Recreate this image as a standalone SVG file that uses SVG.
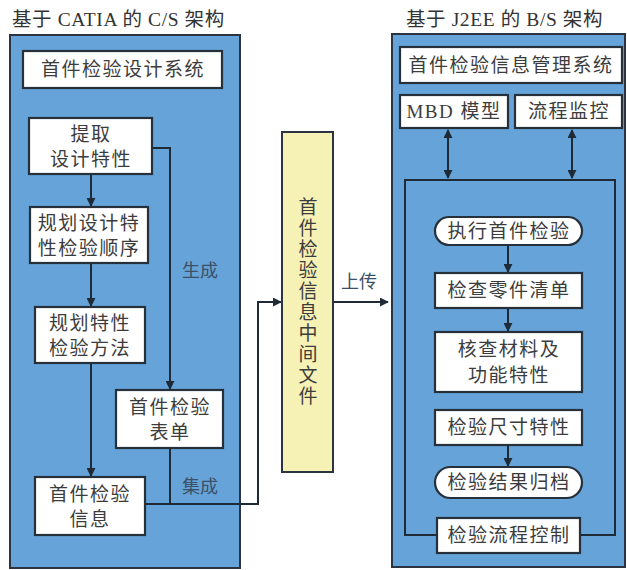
<svg xmlns="http://www.w3.org/2000/svg" width="627" height="570" viewBox="0 0 627 570">
<style>
.panel{fill:#66a3d8;stroke:#2b3440;stroke-width:2}
.box{fill:#ffffff;stroke:#26303a;stroke-width:2.2}
.yel{fill:#f6f1b4;stroke:#2b3440;stroke-width:2}
.t{font-family:"Liberation Serif","Noto Sans CJK SC",serif;font-size:19px;fill:#3c3c3c;text-anchor:middle;letter-spacing:1.5px}
.ti{font-family:"Liberation Serif","Noto Sans CJK SC",serif;font-size:19.5px;fill:#333;letter-spacing:0.6px}
.lb{font-family:"Liberation Serif","Noto Sans CJK SC",serif;font-size:18px;fill:#3a5068;text-anchor:middle}
.ln{fill:none;stroke:#1e2a36;stroke-width:2}
</style>
<defs>
<marker id="ah" viewBox="0 0 10 10" refX="9" refY="5" markerWidth="9" markerHeight="9" orient="auto-start-reverse" markerUnits="userSpaceOnUse">
<path d="M0,0 L10,5 L0,10 z" fill="#1e2a36"/>
</marker>
</defs>
<rect width="627" height="570" fill="#ffffff"/>

<g id="left-panel">
<text class="ti" x="12" y="26">基于 CATIA 的 C/S 架构</text>
<rect class="panel" x="10" y="35" width="230" height="533"/>
</g>
<g id="right-panel">
<text class="ti" x="406" y="26">基于 J2EE 的 B/S 架构</text>
<rect class="panel" x="392" y="34" width="233" height="533"/>
<rect fill="none" stroke="#1e2a36" stroke-width="2" x="405" y="180" width="210" height="355"/>
</g>

<g id="connectors">
<path class="ln" d="M91,174 V206" marker-end="url(#ah)"/>
<path class="ln" d="M91,263 V306" marker-end="url(#ah)"/>
<path class="ln" d="M91,363 V476" marker-end="url(#ah)"/>
<path class="ln" d="M152,148 H170 V389" marker-end="url(#ah)"/>
<path class="ln" d="M170,448 V504"/>
<path class="ln" d="M145,504 H258 V302 H281" marker-end="url(#ah)"/>
<path class="ln" d="M333,302 H388" marker-end="url(#ah)"/>
<path class="ln" d="M448,130 V178" marker-start="url(#ah)" marker-end="url(#ah)"/>
<path class="ln" d="M572,130 V178" marker-start="url(#ah)" marker-end="url(#ah)"/>
<path class="ln" d="M508,245 V272" marker-end="url(#ah)"/>
<path class="ln" d="M508,308 V331" marker-end="url(#ah)"/>
<path class="ln" d="M508,445 V466" marker-end="url(#ah)"/>
<text class="lb" x="200" y="277">生成</text>
<text class="lb" x="200" y="493">集成</text>
<text class="lb" x="359" y="288">上传</text>
</g>

<g id="design-system">
<rect class="box" x="23" y="51" width="199" height="37"/>
<text class="t" x="123" y="76">首件检验设计系统</text>
</g>
<g id="extract">
<rect class="box" x="29" y="118" width="123" height="56"/>
<text class="t" x="91" y="141">提取</text>
<text class="t" x="91" y="166">设计特性</text>
</g>
<g id="plan-order">
<rect class="box" x="30" y="207" width="118" height="56"/>
<text class="t" x="89" y="230">规划设计特</text>
<text class="t" x="89" y="255">性检验顺序</text>
</g>
<g id="plan-method">
<rect class="box" x="35" y="307" width="110" height="56"/>
<text class="t" x="90" y="330">规划特性</text>
<text class="t" x="90" y="355">检验方法</text>
</g>
<g id="inspection-info">
<rect class="box" x="35" y="477" width="110" height="58"/>
<text class="t" x="90" y="501">首件检验</text>
<text class="t" x="90" y="526">信息</text>
</g>
<g id="inspection-form">
<rect class="box" x="116" y="390" width="107" height="58"/>
<text class="t" x="170" y="414">首件检验</text>
<text class="t" x="170" y="439">表单</text>
</g>

<g id="intermediate-file">
<rect class="yel" x="282" y="132" width="51" height="340"/>
<g class="t" style="letter-spacing:0">
<text x="308" y="214">首</text>
<text x="308" y="235">件</text>
<text x="308" y="256">检</text>
<text x="308" y="277">验</text>
<text x="308" y="298">信</text>
<text x="308" y="319">息</text>
<text x="308" y="340">中</text>
<text x="308" y="361">间</text>
<text x="308" y="382">文</text>
<text x="308" y="403">件</text>
</g>
</g>

<g id="mgmt-system">
<rect class="box" x="400" y="47" width="222" height="36"/>
<text class="t" x="511" y="72">首件检验信息管理系统</text>
</g>
<g id="mbd-model">
<rect class="box" x="400" y="95" width="108" height="33"/>
<text class="t" x="454" y="118">MBD 模型</text>
</g>
<g id="process-monitor">
<rect class="box" x="515" y="95" width="107" height="33"/>
<text class="t" x="569" y="118">流程监控</text>
</g>
<g id="execute">
<rect class="box" x="435" y="217" width="147" height="28" rx="14"/>
<text class="t" x="509" y="238">执行首件检验</text>
</g>
<g id="check-parts">
<rect class="box" x="435" y="273" width="147" height="35"/>
<text class="t" x="509" y="297">检查零件清单</text>
</g>
<g id="check-material">
<rect class="box" x="435" y="332" width="147" height="60"/>
<text class="t" x="509" y="356">核查材料及</text>
<text class="t" x="509" y="382">功能特性</text>
</g>
<g id="check-dimension">
<rect class="box" x="435" y="410" width="147" height="35"/>
<text class="t" x="509" y="434">检验尺寸特性</text>
</g>
<g id="archive">
<rect class="box" x="435" y="467" width="147" height="31" rx="15.5"/>
<text class="t" x="509" y="489">检验结果归档</text>
</g>
<g id="process-control">
<rect class="box" x="437" y="518" width="143" height="35"/>
<text class="t" x="509" y="542">检验流程控制</text>
</g>
</svg>
